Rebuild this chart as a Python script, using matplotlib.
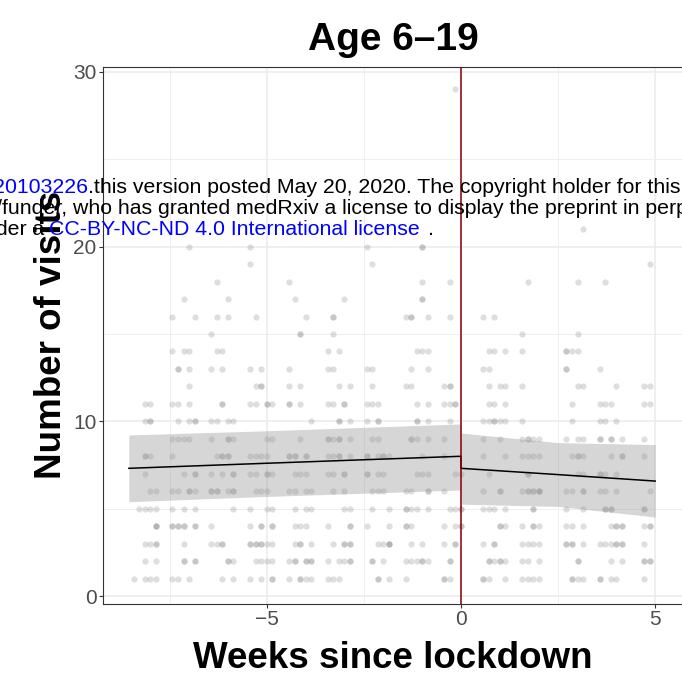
import numpy as np
import matplotlib
matplotlib.use("Agg")
import matplotlib.pyplot as plt

plt.rcParams['font.family'] = ['Liberation Sans', 'DejaVu Sans']

# days since lockdown for each observed visit count (repeats = overlapping points)
v01 = [-59, -57, -56, -55, -52, -51, -49, -43, -41, -38, -36, -34, -34, -31, -29, -29, -28, -27,
       -24, -23, -22, -15, -15, -13,
       -10, -3, -3, -2, 4, 4, 5, 8, 11, 12, 13, 14, 20, 20, 21, 22, 25, 25, 27, 28, 33]
v02 = [-57, -55, -50, -50, -48, -48, -42, -42, -41, -37, -36, -35, -34, -31, -30, -30, -28, -28,
       -27, -27, -24, -22, -21, -20, -20, -16, -16, -14,
       -10, -9, -8, -7, -7, -6, -2, -2, 5, 5, 6, 7, 7, 8, 11, 12, 14, 21, 21, 27, 29, 33, 33, 34, 34]
v03 = [-57, -56, -55, -55, -50, -45, -44, -43, -43, -38, -38, -37, -37, -36, -36, -35, -34, -30,
       -29, -29, -27, -23, -21, -21, -20, -20, -15, -14, -13, -13, -13,
       -9, -7, -3, -1, -1, 4, 6, 6, 11, 12, 13, 14, 19, 19, 20, 20, 22, 25, 26, 27, 28, 28, 29, 29, 33]
v04 = [-55, -55, -55, -52, -52, -51, -51, -50, -50, -48, -48, -45, -38, -36, -36, -34, -34, -30,
       -29, -28, -24, -20, -20, -17, -13,
       -10, -10, -9, -3, -1, 0, 0, 7, 7, 8, 11, 13, 13, 14, 19, 20, 22, 27, 28, 28, 29, 29, 33, 34, 34]
v05 = [-58, -57, -56, -55, -52, -50, -48, -41, -38, -35, -34, -30, -28, -27, -21, -20, -16, -13,
       -10, -10, -9, -8, -6, -2, -1, 0, 0, 4, 5, 6, 8, 13, 13, 19, 22, 26, 26, 27, 27, 33, 33]
v06 = [-56, -55, -52, -51, -49, -49, -48, -45, -45, -44, -44, -42, -41, -41, -37, -36, -35, -31,
       -30, -28, -27, -23, -21, -16, -15, -14,
       -10, -9, -6, -6, -3, 4, 7, 7, 11, 12, 12, 13, 13, 14, 14, 14, 19, 20, 22, 22, 25, 26, 28, 34]
v07 = [-57, -50, -48, -48, -45, -43, -41, -41, -38, -37, -35, -35, -34, -30, -29, -28, -24, -23,
       -21, -21, -17, -17, -15, -14,
       -8, -7, -6, -1, 0, 5, 12, 12, 21, 22, 25, 25, 26, 28]
v08 = [-57, -57, -56, -52, -44, -43, -43, -42, -42, -38, -37, -36, -35, -31, -31, -30, -30, -28,
       -28, -24, -23, -22, -22, -20, -17, -17, -15, -14, -14, -13,
       -7, -3, 4, 8, 11, 12, 13, 14, 20, 21, 21, 22, 27, 29, 29, 33]
v09 = [-52, -51, -50, -49, -45, -42, -42, -41, -35, -34, -29, -24, -24, -23, -22, -22, -20, -16, -15,
       -9, -9, -8, -6, -3, 4, 7, 11, 12, 12, 13, 14, 19, 21, 22, 25, 25, 27, 27, 29, 33]
v10 = [-57, -56, -56, -51, -49, -48, -48, -45, -44, -42, -41, -27, -22, -22, -20, -17, -15, -15,
       -8, -8, -6, -2, 4, 5, 6, 6, 7, 8, 11, 20, 25, 26, 28]
v11 = [-57, -56, -52, -51, -49, -43, -43, -38, -37, -35, -35, -34, -31, -31, -29, -24, -23, -21,
       -21, -17, -16, -15,
       -8, -6, -3, -2, -1, -1, 5, 6, 8, 20, 25, 26, 27, 33, 34]
v12 = [-49, -37, -36, -36, -31, -29, -22, -20, -16,
       -10, -9, -3, -2, -2, 5, 7, 8, 11, 21, 22, 28, 33, 34]
v13 = [-51, -51, -49, -45, -43, -38, -36, -31, -24, -23, -17, -16,
       -9, -6, 4, 5, 19, 19, 25]
v14 = [-52, -50, -49, -44, -43, -24, -22, -8, -7, -6, 5, 6, 8, 11, 19, 19, 20, 21]
v15 = [-45, -29, -29, -23, 11, 21]
v16 = [-52, -48, -44, -42, -37, -28, -23, -23, -10, -9, -9, -6, -2, 4, 6]
v17 = [-50, -42, -30, -21, -7, -7]
v18 = [-44, -31, -7, -2, 12, 21, 26]
v19 = [-38, -16, 34]
v20 = [-49, -38, -17, -7, -7]
v21 = [22]
v29 = [-1]

rows = [(1, v01), (2, v02), (3, v03), (4, v04), (5, v05), (6, v06), (7, v07), (8, v08),
        (9, v09), (10, v10), (11, v11), (12, v12), (13, v13), (14, v14), (15, v15),
        (16, v16), (17, v17), (18, v18), (19, v19), (20, v20), (21, v21), (29, v29)]

# fitted segmented trend (weeks, visits) with confidence band
pre_x = [-8.55, -5.0, 0.0]
pre_fit = [7.31, 7.60, 8.00]
pre_lo = [5.40, 5.70, 6.07]
pre_hi = [9.22, 9.46, 9.85]
post_x = [0.0, 2.5, 5.0]
post_fit = [7.31, 6.95, 6.58]
post_lo = [5.26, 5.13, 4.52]
post_hi = [9.33, 8.78, 8.67]

W, H = 682, 677
fig = plt.figure(figsize=(W / 100, H / 100), dpi=100)

# panel runs off the right edge of the image like the source
ax_l, ax_r, ax_t, ax_b = 103, 690, 67, 604
ax = fig.add_axes([ax_l / W, 1 - ax_b / H, (ax_r - ax_l) / W, (ax_b - ax_t) / H])

px_per_week = 38.85
x0 = -(461 - ax_l) / px_per_week
ax.set_xlim(x0, x0 + (ax_r - ax_l) / px_per_week)
px_per_visit = 17.467
ax.set_ylim(-(ax_b - 596) / px_per_visit, 30 + (72 - ax_t) / px_per_visit)

xs, ys = [], []
for v, days in rows:
    xs += [d / 7 for d in days]
    ys += [v] * len(days)
ax.scatter(xs, ys, s=20, color='#7f7f7f', alpha=0.25, linewidths=0, zorder=2)

ax.fill_between(pre_x, pre_lo, pre_hi, color='#999999', alpha=0.4, linewidth=0, zorder=3)
ax.fill_between(post_x, post_lo, post_hi, color='#999999', alpha=0.4, linewidth=0, zorder=3)
ax.plot(pre_x + post_x, pre_fit + post_fit, color='black', lw=1.1, zorder=4)
ax.axvline(0, color='#8b0000', lw=1.1, zorder=5)

ax.set_xticks([-5, 0, 5])
ax.set_xticks([-7.5, -2.5, 2.5], minor=True)
ax.set_yticks([0, 10, 20, 30])
ax.set_yticks([5, 15, 25], minor=True)
ax.grid(which='major', color='#ebebeb', lw=1.1, zorder=0)
ax.grid(which='minor', color='#ebebeb', lw=0.55, zorder=0)
ax.set_axisbelow(True)
ax.tick_params(which='major', length=3, width=0.8, color='#333333', labelcolor='#4d4d4d',
               labelsize=15, pad=1.5)
ax.tick_params(which='minor', length=0)
for s in ['left', 'bottom', 'top']:
    ax.spines[s].set_color('#333333')
    ax.spines[s].set_linewidth(0.8)
ax.spines['right'].set_visible(False)

fig.text(393 / W, 1 - 50 / H, 'Age 6–19', ha='center', va='baseline',
         fontsize=28, fontweight='bold')
fig.text(393 / W, 1 - 668 / H, 'Weeks since lockdown', ha='center', va='baseline',
         fontsize=26.5, fontweight='bold')
fig.text(52 / W, 1 - 335 / H, 'Number of visits', ha='center', va='center', rotation=90,
         fontsize=26.5, fontweight='bold')

# medRxiv watermark lines
wm = 15.3
def wtext(x, y, s, color='black', ha='left'):
    fig.text(x / W, 1 - y / H, s, ha=ha, va='baseline', fontsize=wm, color=color, zorder=10)

wtext(88, 193, 'medRxiv preprint doi: https://doi.org/10.1101/2020.05.15.20103226', 'blue', 'right')
wtext(88, 193, '.this version posted May 20, 2020. The copyright holder for this preprint')
wtext(2, 214, 'preprint (which was not certified by peer review) is the author/', ha='right')
wtext(2, 214, 'funder, who has granted medRxiv a license to display the preprint in perpetuity.')
wtext(44, 235, 'It is made available under a', ha='right')
wtext(49, 235, 'CC-BY-NC-ND 4.0 International license', 'blue')
wtext(428, 235, '.')

fig.savefig('out.png', dpi=100)
